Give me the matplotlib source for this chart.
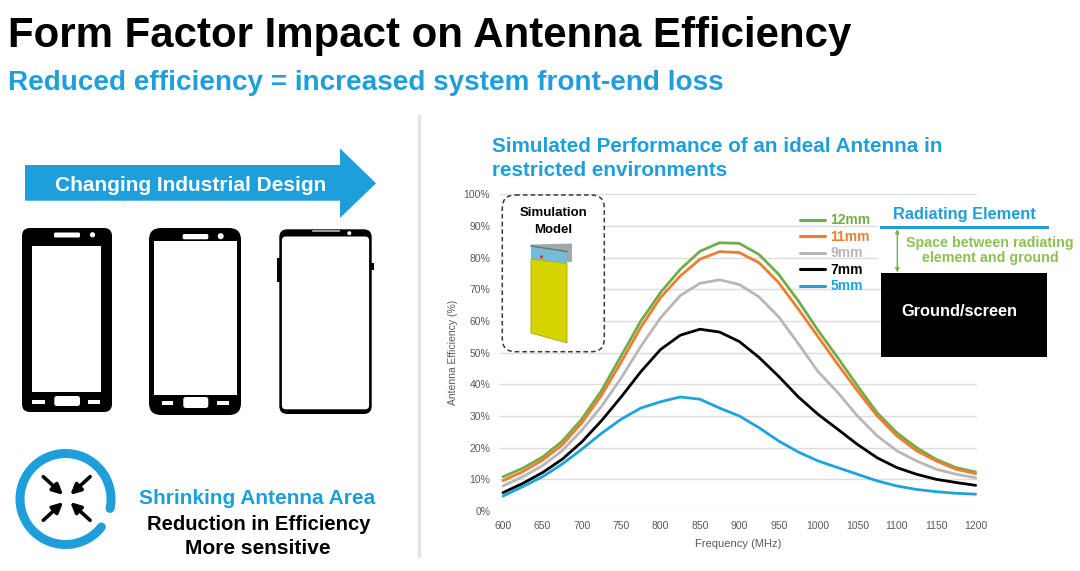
import matplotlib
matplotlib.use("Agg")
import matplotlib.pyplot as plt
from matplotlib.patches import FancyBboxPatch, Polygon, Rectangle, Circle, Arc

# ---------------- data ----------------
freq_mhz = [600, 625, 650, 675, 700, 725, 750, 775, 800, 825, 850, 875, 900,
            925, 950, 975, 1000, 1025, 1050, 1075, 1100, 1125, 1150, 1175, 1200]

eff_12mm = [10.8, 13.5, 17.0, 22.0, 29.0, 38.0, 49.0, 60.0, 69.0, 76.3, 82.0, 84.7, 84.5,
            81.0, 74.7, 66.3, 57.0, 48.4, 39.5, 31.0, 24.7, 20.0, 16.3, 13.7, 12.3]
eff_11mm = [9.6, 12.4, 16.0, 20.8, 27.8, 36.5, 47.0, 58.0, 67.4, 74.2, 79.5, 81.9, 81.6,
            78.4, 72.1, 63.7, 55.0, 46.3, 37.9, 30.0, 23.7, 19.0, 15.8, 13.2, 11.8]
eff_9mm = [7.9, 10.8, 14.3, 19.0, 25.5, 33.0, 42.0, 52.0, 61.0, 68.0, 71.9, 73.0, 71.5,
           67.6, 61.3, 52.8, 44.0, 37.4, 30.0, 23.7, 19.0, 15.8, 13.2, 11.6, 10.5]
eff_7mm = [5.8, 8.7, 12.1, 16.3, 21.8, 28.5, 36.0, 44.0, 51.0, 55.5, 57.4, 56.5, 53.5,
           48.5, 42.5, 36.0, 30.5, 25.8, 21.0, 16.8, 13.7, 11.6, 10.0, 9.0, 8.1]
eff_5mm = [4.7, 7.7, 10.8, 14.8, 19.5, 24.5, 29.0, 32.5, 34.5, 36.0, 35.3, 32.5, 30.0,
           26.3, 22.1, 18.6, 15.8, 13.7, 11.6, 9.5, 7.9, 6.8, 6.1, 5.6, 5.3]

series_labels = ["12mm", "11mm", "9mm", "7mm", "5mm"]
series_colors = ["#70AD47", "#ED7D31", "#B7B7B7", "#000000", "#1CA3DE"]
y_ticks = [0, 10, 20, 30, 40, 50, 60, 70, 80, 90, 100]
x_ticks = [600, 650, 700, 750, 800, 850, 900, 950, 1000, 1050, 1100, 1150, 1200]

BLUE = "#1E9FDB"
GREEN_TXT = "#8CC152"
GREY_TXT = "#595959"

W, H = 1080, 571
plt.rcParams['font.family'] = ['Liberation Sans', 'DejaVu Sans']

fig = plt.figure(figsize=(W / 100, H / 100), dpi=100)
fig.patch.set_facecolor("white")


def px_box(x0, y0, x1, y1):
    # pixel rectangle (top-left origin) -> figure fraction
    return [x0 / W, 1 - y1 / H, (x1 - x0) / W, (y1 - y0) / H]


# ---------------- chart ----------------
ax = fig.add_axes(px_box(500, 194.3, 977, 511))
all_series = [eff_12mm, eff_11mm, eff_9mm, eff_7mm, eff_5mm]
for vals, lab, col in zip(all_series, series_labels, series_colors):
    ax.plot(freq_mhz, vals, color=col, lw=2.0, label=lab,
            solid_capstyle="round", solid_joinstyle="round")

ax.set_xlim(596.2, 1201.7)
ax.set_ylim(0, 100)
ax.set_xticks(x_ticks)
ax.set_yticks(y_ticks)
ax.set_yticklabels([f"{v}%" for v in y_ticks])
ax.grid(axis="y", color="#DCDCDC", lw=1.0)
ax.set_axisbelow(True)
for s in ax.spines.values():
    s.set_visible(False)
ax.tick_params(length=0, labelsize=7.5, labelcolor=GREY_TXT)
ax.tick_params(axis="y", pad=7)
ax.tick_params(axis="x", pad=7)
ax.set_xlabel("Frequency (MHz)", fontsize=8, color=GREY_TXT, labelpad=6)
ax.set_ylabel("Antenna Efficiency (%)", fontsize=7.5, color=GREY_TXT, labelpad=4)

leg = ax.legend(loc="upper left", bbox_to_anchor=(800 / W, 1 - 213.5 / H),
                bbox_transform=fig.transFigure, frameon=False,
                prop={"weight": "bold", "size": 10}, labelcolor="linecolor",
                handlelength=1.8, handletextpad=0.4, labelspacing=0.18,
                borderpad=0, borderaxespad=0)
for line in leg.get_lines():
    line.set_linewidth(2.2)

# ---------------- overlay for slide graphics (pixel coords) ----------------
ov = fig.add_axes([0, 0, 1, 1])
ov.set_xlim(0, W)
ov.set_ylim(H, 0)
ov.axis("off")


def rbox(x, y, w, h, r, **kw):
    p = FancyBboxPatch((x, y), w, h, boxstyle=f"round,pad=0,rounding_size={r}", **kw)
    ov.add_patch(p)
    return p


texts_to_fit = []

t = ov.text(8, 46.7, "Form Factor Impact on Antenna Efficiency", fontsize=26,
            weight="bold", color="black", va="baseline", ha="left")
texts_to_fit.append((t, 844))
t = ov.text(8, 90, "Reduced efficiency = increased system front-end loss", fontsize=18,
            weight="bold", color=BLUE, va="baseline", ha="left")
texts_to_fit.append((t, 714))

# divider
ov.plot([419, 419], [116, 556], color="#E4E4E4", lw=2.5)

# blue arrow
ov.add_patch(Polygon([(25, 165), (340, 165), (340, 148.3), (376, 183.3),
                      (340, 218), (340, 200.7), (25, 200.7)],
                     closed=True, fc=BLUE, ec="none"))
t = ov.text(191, 191, "Changing Industrial Design", fontsize=14, weight="bold",
            color="white", ha="center", va="baseline")
texts_to_fit.append((t, 272))

# phone 1
rbox(22, 228, 90, 184, 8, fc="black", ec="none")
ov.add_patch(Rectangle((32.3, 246), 68.4, 145.7, fc="white", ec="none"))
rbox(54, 232.5, 26, 5, 1.5, fc="white", ec="none")
ov.add_patch(Circle((92.5, 234.8), 2.6, fc="white", ec="none"))
rbox(54.3, 396, 25.7, 10, 2.5, fc="white", ec="none")
ov.add_patch(Rectangle((32.3, 400), 12.7, 4, fc="white", ec="none"))
ov.add_patch(Rectangle((88.3, 400), 11.7, 4, fc="white", ec="none"))

# phone 2
rbox(149, 228, 92, 187, 12, fc="black", ec="none")
ov.add_patch(Rectangle((154, 241), 82.7, 154, fc="white", ec="none"))
rbox(182.7, 234, 25.6, 5.3, 1.5, fc="white", ec="none")
ov.add_patch(Circle((220.7, 236.2), 3, fc="white", ec="none"))
rbox(183.3, 397, 25, 11, 2.5, fc="white", ec="none")
ov.add_patch(Rectangle((161.7, 400.5), 11.6, 4, fc="white", ec="none"))
ov.add_patch(Rectangle((217.3, 400.5), 12, 4, fc="white", ec="none"))

# phone 3 (bezel-less)
ov.add_patch(Rectangle((277, 258), 3, 23.7, fc="black", ec="none"))
ov.add_patch(Rectangle((370.5, 263), 3, 7, fc="black", ec="none"))
rbox(279.3, 229.3, 92.4, 184.7, 8, fc="black", ec="none")
rbox(281.9, 236.5, 87.2, 172.8, 4, fc="white", ec="none")
ov.add_patch(Circle((349.3, 233.2), 2.0, fc="white", ec="none"))
ov.plot([313, 339], [230.8, 230.8], color="#BBBBBB", lw=1.2)

# shrinking icon
ov.add_patch(Arc((65.5, 499), 91, 91, theta1=38, theta2=12, lw=6.5, color=BLUE,
                 capstyle="round"))
cx, cy = 66.7, 498.5
for sx, sy in [(-1, -1), (1, -1), (-1, 1), (1, 1)]:
    ov.annotate("", xy=(cx + sx * 3.6, cy + sy * 3.6),
                xytext=(cx + sx * 23.4, cy + sy * 21.8),
                arrowprops=dict(arrowstyle="-|>", color="black", lw=2.6,
                                mutation_scale=15, shrinkA=0, shrinkB=0))

t = ov.text(257.5, 499, "Shrinking Antenna Area", fontsize=14, weight="bold",
            color=BLUE, ha="center", va="center")
texts_to_fit.append((t, 238))
t = ov.text(259, 525, "Reduction in Efficiency", fontsize=14, weight="bold",
            color="black", ha="center", va="center")
texts_to_fit.append((t, 225))
t = ov.text(257.5, 548.3, "More sensitive", fontsize=14, weight="bold",
            color="black", ha="center", va="center")
texts_to_fit.append((t, 145))

# right panel heading
t1 = ov.text(491.7, 151.5, "Simulated Performance of an ideal Antenna in", fontsize=14,
             weight="bold", color=BLUE, ha="left", va="baseline")
t2 = ov.text(491.7, 175.5, "restricted environments", fontsize=14,
             weight="bold", color=BLUE, ha="left", va="baseline")

# simulation model inset
rbox(502.3, 195, 102, 156.7, 13, fc="white", ec="#3A3A3A", lw=1.1, ls=(0, (3, 2)))
ov.text(553.3, 213.3, "Simulation", fontsize=9.5, weight="bold", ha="center", va="center")
ov.text(553.3, 230, "Model", fontsize=9.5, weight="bold", ha="center", va="center")
ov.add_patch(Polygon([(531, 244.5), (572, 243.5), (572, 262), (567, 262), (531, 257)],
                     fc="#A3A8AB", ec="none"))
ov.add_patch(Polygon([(531, 247.5), (567, 252.5), (567, 263.5), (531, 259)],
                     fc="#74BCDD", ec="none"))
ov.plot([531, 567], [246, 251.5], color="#4F8560", lw=1.0)
ov.add_patch(Polygon([(531, 259), (567, 263.5), (567, 343), (531, 333)],
                     fc="#D6D400", ec="#A9A800", lw=0.6))
ov.add_patch(Circle((541.5, 256.8), 1.6, fc="#D43A22", ec="none"))

# radiating element diagram
ov.add_patch(Rectangle((878, 198), 200, 75, fc="white", ec="none"))
t = ov.text(964.5, 214.3, "Radiating Element", fontsize=10.5, weight="bold",
            color=BLUE, ha="center", va="center")
texts_to_fit.append((t, 143))
ov.plot([880.7, 1047], [227.3, 227.3], color=BLUE, lw=2.2)
ov.annotate("", xy=(897.3, 229), xytext=(897.3, 272.5),
            arrowprops=dict(arrowstyle="<|-|>", color="#7DB53F", lw=1.0,
                            mutation_scale=6, shrinkA=0, shrinkB=0))
green1 = ov.text(990, 242.7, "Space between radiating", fontsize=9.5, weight="bold",
                 color=GREEN_TXT, ha="center", va="center")
texts_to_fit.append((green1, 167))
green2 = ov.text(990.8, 258.3, "element and ground", fontsize=9.5, weight="bold",
                 color=GREEN_TXT, ha="center", va="center")
ov.add_patch(Rectangle((880.7, 273.3), 166, 83.4, fc="black", ec="none"))
t = ov.text(959.7, 311.7, "Ground/screen", fontsize=10, weight="bold",
            color="white", ha="center", va="center")
texts_to_fit.append((t, 117))

# scale the slide texts to the widths measured on the reference
renderer = fig.canvas.get_renderer()
for txt, width in texts_to_fit:
    w = txt.get_window_extent(renderer).width
    txt.set_fontsize(txt.get_fontsize() * width / w)
w = t1.get_window_extent(renderer).width
t1.set_fontsize(t1.get_fontsize() * 451 / w)
t2.set_fontsize(t1.get_fontsize())
green2.set_fontsize(green1.get_fontsize())

fig.savefig("out.png", dpi=100, facecolor="white")
